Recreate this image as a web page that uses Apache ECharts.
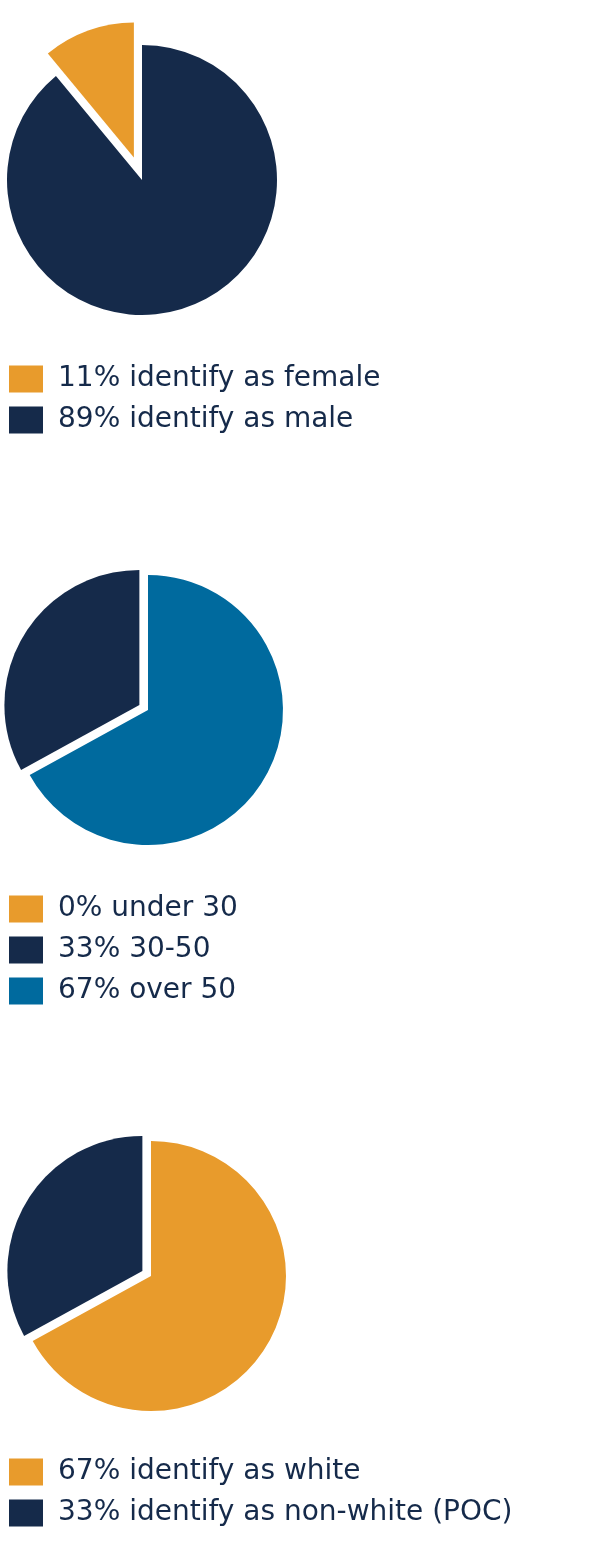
<!DOCTYPE html>
<html>
<head>
<meta charset="utf-8">
<script src="https://cdn.jsdelivr.net/npm/echarts@6/dist/echarts.min.js"></script>
<style>
  html, body { margin: 0; padding: 0; background: #fff; }
  #chart { width: 594px; height: 1556px; }
</style>
</head>
<body>
<div id="chart"></div>
<script>
// gender
const genderNames = ["11% identify as female", "89% identify as male"];
const genderValues = [11, 89];
// age
const ageNames = ["0% under 30", "33% 30-50", "67% over 50"];
const ageValues = [0, 33, 67];
// race
const raceNames = ["67% identify as white", "33% identify as non-white (POC)"];
const raceValues = [67, 33];

const orange = "#e89b2c";
const navy = "#152a4a";
const blue = "#006a9e";

function items(names, values, colors, pulled) {
  return names.map((n, i) => ({
    name: n,
    value: values[i],
    selected: i === pulled,
    itemStyle: { color: colors[i] },
  }));
}

function legendAt(top, names) {
  return {
    orient: "vertical",
    left: 9,
    top: top,
    padding: 0,
    data: names,
    icon: "rect",
    itemWidth: 34,
    itemHeight: 27,
    itemGap: 13,
    selectedMode: false,
    textStyle: {
      color: navy,
      fontSize: 28,
      fontFamily: "DejaVu Sans",
      padding: [0, 0, 0, 10],
    },
  };
}

function pieAt(center, data, clockwise, offset) {
  return {
    type: "pie",
    center: center,
    radius: 135,
    clockwise: clockwise,
    startAngle: 90,
    selectedMode: "single",
    selectedOffset: offset,
    silent: true,
    label: { show: false },
    labelLine: { show: false },
    emphasis: { disabled: true },
    data: data,
  };
}

let myChart = echarts.init(document.getElementById("chart"));
myChart.setOption({
  animation: false,
  legend: [
    legendAt(365, genderNames),
    legendAt(895, ageNames),
    legendAt(1458, raceNames),
  ],
  series: [
    pieAt([142, 180], items(genderNames, genderValues, [orange, navy], 0), false, 24),
    pieAt([148, 710], items(ageNames, ageValues, [orange, navy, blue], 1), false, 10),
    pieAt([151, 1276], items(raceNames, raceValues, [orange, navy], 1), true, 10),
  ],
});
</script>
</body>
</html>
